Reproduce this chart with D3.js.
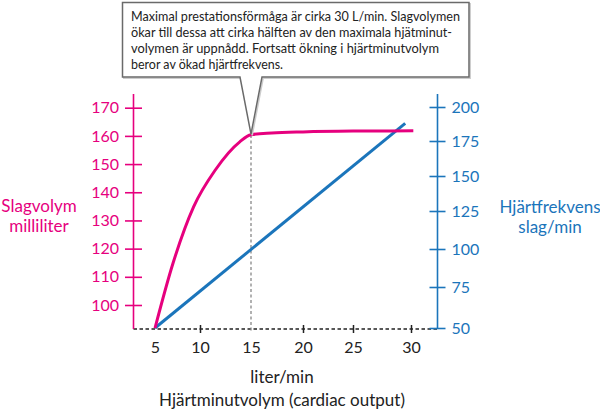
<!DOCTYPE html>
<html>
<head>
<meta charset="utf-8">
<script src="https://cdn.jsdelivr.net/npm/d3@7"></script>
<style>
  body { margin: 0; background: #fff; }
  text { font-family: Lato, "Noto Sans", sans-serif; }
</style>
</head>
<body>
<svg id="chart" width="600" height="413"></svg>
<script>
// tick values
var xTicks = [5, 10, 15, 20, 25, 30];
var strokeTicks = [100, 110, 120, 130, 140, 150, 160, 170];
var hrTicks = [50, 75, 100, 125, 150, 175, 200];

// slagvolym (ml) vs hjärtminutvolym (l/min)
var svOutput = [5, 7.0, 9.3, 11.5, 13.9, 15, 17, 20, 25, 30.2];
var svValues = [91.8, 114.8, 134.9, 147.9, 157.9, 160.4, 161.0, 161.4, 161.7, 161.8];

// hjärtfrekvens (slag/min)
var hrOutput = [5, 29.5];
var hrValues = [50, 188];

var noteLines = [
  "Maximal prestationsförmåga är cirka 30 L/min. Slagvolymen",
  "ökar till dessa att cirka hälften av den maximala hjätminut-",
  "volymen är uppnådd. Fortsatt ökning i hjärtminutvolym",
  "beror av ökad hjärtfrekvens."
];
var noteWidths = [329, 321, 308, 152];

var PINK = "#e6007e", BLUE = "#1b75bb";

(function() {
    var svg = d3.select("#chart");
    var baseY = 329, leftX = 133.5, rightX = 437.5;

    // the original illustration has slightly uneven tick spacing
    var x = d3.scaleLinear().domain(xTicks).range([155, 200, 251, 303, 353, 411]);
    var yL = d3.scaleLinear().domain([100, 170]).range([305, 107.7]);
    var yR = d3.scaleLinear().domain(hrTicks).range([328, 287, 249, 211, 176, 141, 107]);

    // x axis (dashed)
    svg.append("line")
        .attr("x1", leftX).attr("x2", rightX)
        .attr("y1", baseY).attr("y2", baseY)
        .attr("stroke", "#222").attr("stroke-width", 1.3)
        .attr("stroke-dasharray", "3.5,2.5");

    var gx = svg.append("g")
        .attr("transform", "translate(0," + baseY + ")")
        .call(d3.axisBottom(x).tickValues(xTicks).tickSize(0).tickPadding(13));
    gx.select(".domain").remove();
    gx.selectAll(".tick text")
        .attr("font-size", 16).attr("fill", "#222");
    gx.selectAll(".tick line")
        .attr("y1", -4).attr("y2", 4)
        .attr("stroke", "#222").attr("stroke-width", 1.5)
        .attr("display", function(d) { return (d === 5 || d === 15) ? "none" : null; });

    // guide at 15 l/min
    svg.append("line")
        .attr("x1", x(15)).attr("x2", x(15))
        .attr("y1", yL(160.3)).attr("y2", baseY + 4)
        .attr("stroke", "#888").attr("stroke-width", 1.3)
        .attr("stroke-dasharray", "3,2.5");

    // left axis
    svg.append("line")
        .attr("x1", leftX).attr("x2", leftX)
        .attr("y1", 94).attr("y2", baseY)
        .attr("stroke", PINK).attr("stroke-width", 1.6);
    var gl = svg.append("g")
        .attr("transform", "translate(" + leftX + ",0)")
        .call(d3.axisLeft(yL).tickValues(strokeTicks).tickSize(8.5).tickPadding(6));
    gl.select(".domain").remove();
    gl.selectAll(".tick line").attr("x1", 8.5).attr("stroke", PINK).attr("stroke-width", 1.6);
    gl.selectAll(".tick text").attr("font-size", 16).attr("fill", PINK);

    // right axis
    svg.append("line")
        .attr("x1", rightX).attr("x2", rightX)
        .attr("y1", 94).attr("y2", baseY)
        .attr("stroke", BLUE).attr("stroke-width", 1.6);
    var gr = svg.append("g")
        .attr("transform", "translate(" + rightX + ",0)")
        .call(d3.axisRight(yR).tickValues(hrTicks).tickSize(8).tickPadding(6));
    gr.select(".domain").remove();
    gr.selectAll(".tick line").attr("x1", -8).attr("stroke", BLUE).attr("stroke-width", 1.6);
    gr.selectAll(".tick text").attr("font-size", 16).attr("fill", BLUE);

    // heart rate line
    svg.append("path")
        .datum(d3.zip(hrOutput, hrValues))
        .attr("fill", "none").attr("stroke", BLUE).attr("stroke-width", 3)
        .attr("d", d3.line()
            .x(function(d) { return x(d[0]); })
            .y(function(d) { return yR(d[1]); }));

    // stroke volume curve
    svg.append("path")
        .datum(d3.zip(svOutput, svValues))
        .attr("fill", "none").attr("stroke", PINK).attr("stroke-width", 3)
        .attr("d", d3.line()
            .curve(d3.curveMonotoneX)
            .x(function(d) { return x(d[0]); })
            .y(function(d) { return yL(d[1]); }));

    // axis titles
    var lt = svg.append("text").attr("text-anchor", "middle")
        .attr("font-size", 17).attr("fill", PINK);
    lt.append("tspan").attr("x", 39).attr("y", 212).text("Slagvolym");
    lt.append("tspan").attr("x", 39).attr("y", 232).text("milliliter");

    var rt = svg.append("text").attr("text-anchor", "middle")
        .attr("font-size", 17).attr("fill", BLUE);
    rt.append("tspan").attr("x", 550).attr("y", 213).text("Hjärtfrekvens");
    rt.append("tspan").attr("x", 550).attr("y", 233).text("slag/min");

    svg.append("text").attr("text-anchor", "middle")
        .attr("x", 282).attr("y", 383).attr("font-size", 17).attr("fill", "#222")
        .text("liter/min");
    svg.append("text").attr("text-anchor", "middle")
        .attr("x", 282).attr("y", 406).attr("font-size", 17).attr("fill", "#222")
        .text("Hjärtminutvolym (cardiac output)");

    // callout
    var tipX = x(15), tipY = yL(160.3) - 1;
    var bx0 = 122.5, bx1 = 469, by0 = 2.5, by1 = 77;
    var callout = "M" + bx0 + "," + by0 + "H" + bx1 + "V" + by1 +
        "H" + (tipX + 11) + "L" + tipX + "," + tipY + "L" + (tipX - 11) + "," + by1 +
        "H" + bx0 + "Z";
    svg.append("path").attr("d", callout)
        .attr("transform", "translate(1.2,1.2)")
        .attr("fill", "none").attr("stroke", "#ccc").attr("stroke-width", 1.5);
    svg.append("path").attr("d", callout)
        .attr("fill", "#fff").attr("stroke", "#6a6a6a").attr("stroke-width", 1.5);

    svg.append("g").selectAll("text")
        .data(noteLines)
        .enter()
        .append("text")
        .attr("x", 131)
        .attr("y", function(d, i) { return 20.5 + i * 16.3; })
        .attr("font-size", 13.5)
        .attr("fill", "#222")
        .attr("textLength", function(d, i) { return noteWidths[i]; })
        .attr("lengthAdjust", "spacingAndGlyphs")
        .text(function(d) { return d; });
})();
</script>
</body>
</html>
